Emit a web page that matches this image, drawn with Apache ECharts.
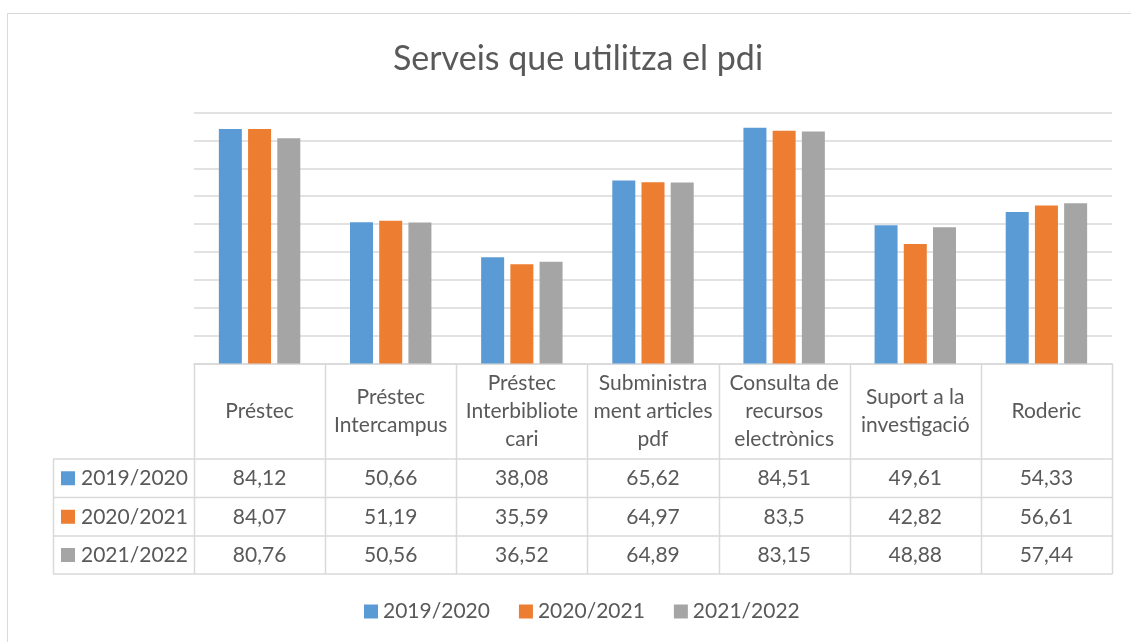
<!DOCTYPE html>
<html>
<head>
<meta charset="utf-8">
<script src="https://cdn.jsdelivr.net/npm/echarts@6/dist/echarts.min.js"></script>
<style>
html,body{margin:0;padding:0;background:#fff;}
#c{width:1131px;height:642px;}
</style>
</head>
<body>
<div id="c"></div>
<script>
var title = 'Serveis que utilitza el pdi';
var categories = ['Préstec', 'Préstec\nIntercampus', 'Préstec\nInterbibliote\ncari', 'Subministra\nment articles\npdf', 'Consulta de\nrecursos\nelectrònics', 'Suport a la\ninvestigació', 'Roderic'];
var seriesNames = ['2019/2020', '2020/2021', '2021/2022'];
var s2019 = [84.12, 50.66, 38.08, 65.62, 84.51, 49.61, 54.33];
var s2020 = [84.07, 51.19, 35.59, 64.97, 83.5, 42.82, 56.61];
var s2021 = [80.76, 50.56, 36.52, 64.89, 83.15, 48.88, 57.44];
var colors = ['#5B9BD5', '#ED7D31', '#A5A5A5'];
var yMin = 0, yMax = 90, yInterval = 10;

var allSeries = [s2019, s2020, s2021];
var FONT = 'Lato';
var TXT = '#595959';
var LINE = '#d9d9d9';

// layout
var gL = 194, gR = 1112, gT = 112.5, gB = 363.5;
var tabLeft = 53;
var rowsY = [459, 497.5, 536, 574];
var catW = (gR - gL) / categories.length;

var chart = echarts.init(document.getElementById('c'), null, {renderer: 'canvas'});

var graphics = [];
// outer frame
graphics.push({type: 'rect', shape: {x: 7.5, y: 13.5, width: 1150, height: 660}, style: {fill: 'none', stroke: LINE, lineWidth: 1}, silent: true});
// vertical lines of table
for (var k = 0; k <= categories.length; k++) {
  var x = Math.round(gL + k * catW) + 0.5;
  graphics.push({type: 'line', shape: {x1: x, y1: gB, x2: x, y2: rowsY[3]}, style: {stroke: LINE, lineWidth: 1.5}, silent: true});
}
graphics.push({type: 'line', shape: {x1: tabLeft + 0.5, y1: rowsY[0], x2: tabLeft + 0.5, y2: rowsY[3]}, style: {stroke: LINE, lineWidth: 1.5}, silent: true});
// horizontal lines
for (var r = 0; r < rowsY.length; r++) {
  graphics.push({type: 'line', shape: {x1: tabLeft, y1: rowsY[r], x2: gR + 0.5, y2: rowsY[r]}, style: {stroke: LINE, lineWidth: 1.5}, silent: true});
}
// row headers and values
for (var s = 0; s < allSeries.length; s++) {
  var cy = (rowsY[s] + rowsY[s + 1]) / 2;
  graphics.push({type: 'rect', shape: {x: 61, y: cy - 7, width: 14, height: 14}, style: {fill: colors[s]}, silent: true});
  graphics.push({type: 'text', x: 81, y: cy, style: {text: seriesNames[s], fill: TXT, font: '21px ' + FONT, textAlign: 'left', textVerticalAlign: 'middle'}, silent: true});
  for (var i = 0; i < categories.length; i++) {
    var cx = gL + (i + 0.5) * catW;
    graphics.push({type: 'text', x: cx, y: cy, style: {text: String(allSeries[s][i]).replace('.', ','), fill: TXT, font: '21px ' + FONT, textAlign: 'center', textVerticalAlign: 'middle'}, silent: true});
  }
}

var series = allSeries.map(function (d, idx) {
  return {
    name: seriesNames[idx],
    type: 'bar',
    data: d,
    barWidth: 23,
    barGap: '27%',
    itemStyle: {color: colors[idx]},
    emphasis: {disabled: true}
  };
});

chart.setOption({
  animation: false,
  backgroundColor: '#fff',
  title: {
    text: title,
    left: 573,
    textAlign: 'center',
    top: 37,
    textStyle: {fontFamily: FONT, fontSize: 34, fontWeight: 'normal', color: TXT}
  },
  legend: {
    data: seriesNames,
    left: 359,
    top: 596,
    icon: 'rect',
    itemWidth: 14,
    itemHeight: 14,
    itemGap: 29,
    textStyle: {fontFamily: FONT, fontSize: 21, color: TXT},
    selectedMode: false
  },
  grid: {left: gL, top: gT, width: gR - gL, height: gB - gT, containLabel: false},
  xAxis: {
    type: 'category',
    data: categories,
    axisLine: {show: true, lineStyle: {color: LINE, width: 1.5}},
    axisTick: {show: false},
    axisLabel: {
      interval: 0,
      margin: 48,
      verticalAlign: 'middle',
      fontFamily: FONT,
      fontSize: 21,
      lineHeight: 28,
      color: TXT
    }
  },
  yAxis: {
    type: 'value',
    min: yMin,
    max: yMax,
    interval: yInterval,
    axisLabel: {show: false},
    axisLine: {show: false},
    axisTick: {show: false},
    splitLine: {lineStyle: {color: LINE, width: 1.5}}
  },
  series: series,
  graphic: graphics
});
</script>
</body>
</html>
